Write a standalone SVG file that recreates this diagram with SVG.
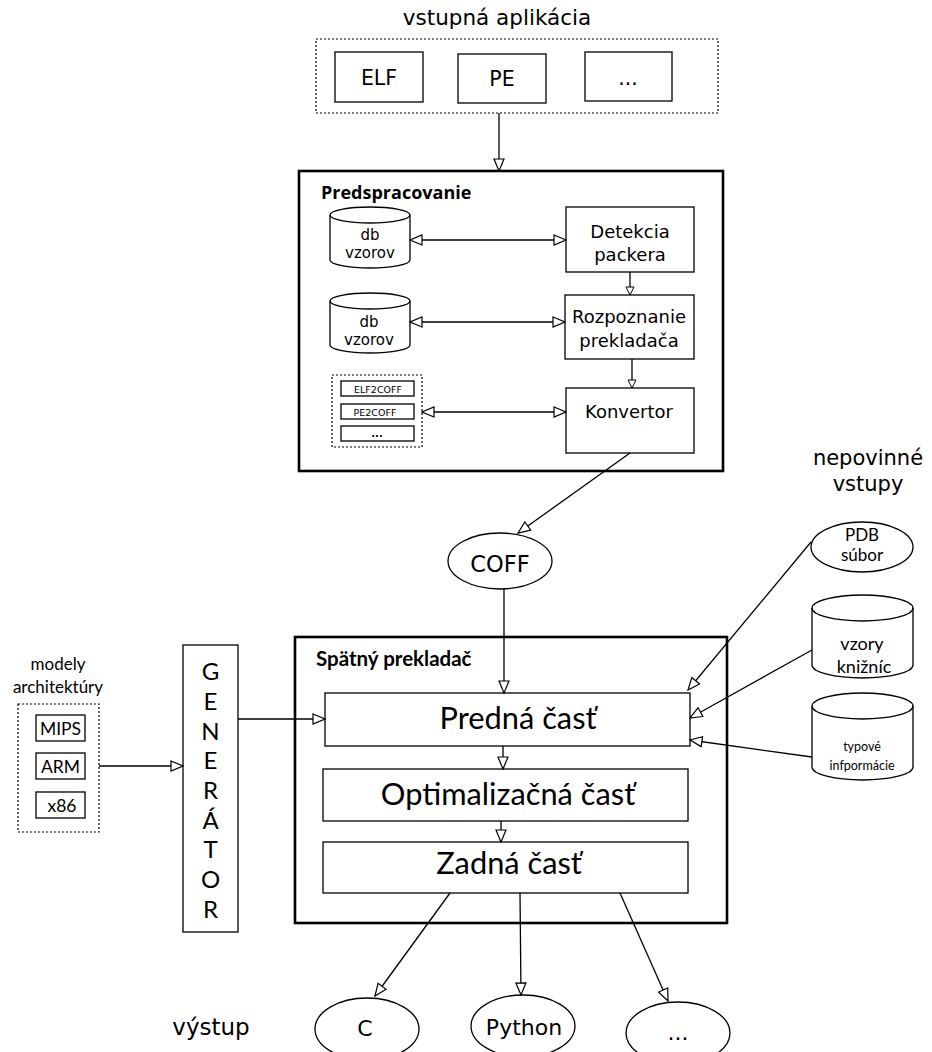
<svg xmlns="http://www.w3.org/2000/svg" width="932" height="1052" viewBox="0 0 932 1052">
<style>
.bx{fill:#fff;stroke:#000;stroke-width:1.3}
.big{fill:none;stroke:#000;stroke-width:2.6}
.dot{fill:none;stroke:#000;stroke-width:1.2;stroke-dasharray:2 2}
.ln{fill:none;stroke:#000;stroke-width:1.3}
.dj{font-family:"DejaVu Sans",sans-serif;fill:#000}
.lt{font-family:Lato,sans-serif;fill:#000}
.c{text-anchor:middle}
</style>
<defs>
<marker id="ah" markerUnits="userSpaceOnUse" markerWidth="14" markerHeight="12" refX="13" refY="6" orient="auto-start-reverse"><path d="M1,1 L13,6 L1,11 Z" fill="#fff" stroke="#000" stroke-width="1.2"/></marker>
<marker id="as" markerUnits="userSpaceOnUse" markerWidth="10" markerHeight="10" refX="9" refY="5" orient="auto"><path d="M1,1 L9,5 L1,9 Z" fill="#fff" stroke="#000" stroke-width="1"/></marker>
</defs>
<rect width="932" height="1052" fill="#fff"/>

<text class="dj c" x="497" y="25" font-size="21.5">vstupná aplikácia</text>
<g id="inputs">
<rect class="dot" x="316" y="39" width="402" height="74"/>
<g id="elf"><rect class="bx" x="335" y="52" width="88" height="50"/><text class="dj c" x="379" y="85" font-size="20.5">ELF</text></g>
<g id="pe"><rect class="bx" x="458" y="54" width="88" height="49"/><text class="dj c" x="502" y="86" font-size="20.5">PE</text></g>
<g id="other-in"><rect class="bx" x="585" y="52" width="87" height="49"/><text class="dj c" x="628" y="85" font-size="20.5">...</text></g>
</g>

<g id="predspracovanie">
<rect class="big" x="299" y="171" width="424" height="300"/>
<text x="321" y="199" font-family="'Open Sans',sans-serif" font-weight="bold" font-size="18">Predspracovanie</text>
</g>
<g id="db1">
<path class="bx" d="M330,215 A40,8 0 0 1 410,215 L410,260 A40,8 0 0 1 330,260 Z"/>
<path class="ln" d="M330,215 A40,8 0 0 0 410,215"/>
<text class="dj c" x="370" y="240" font-size="15">db</text><text class="dj c" x="370" y="258" font-size="15">vzorov</text>
</g>
<g id="db2">
<path class="bx" d="M330,301 A40,8 0 0 1 410,301 L410,345 A40,8 0 0 1 330,345 Z"/>
<path class="ln" d="M330,301 A40,8 0 0 0 410,301"/>
<text class="dj c" x="369" y="327" font-size="15">db</text><text class="dj c" x="369" y="345" font-size="15">vzorov</text>
</g>
<g id="detekcia"><rect class="bx" x="566" y="207" width="128" height="65"/><text class="dj c" x="630" y="238" font-size="18">Detekcia</text><text class="dj c" x="630" y="261" font-size="18">packera</text></g>
<g id="rozpoznanie"><rect class="bx" x="565" y="295" width="129" height="64"/><text class="dj c" x="629" y="323" font-size="18">Rozpoznanie</text><text class="dj c" x="629" y="347" font-size="18">prekladača</text></g>
<g id="konvertor"><rect class="bx" x="566" y="388" width="128" height="65"/><text class="dj c" x="629" y="418" font-size="18">Konvertor</text></g>
<g id="konverzie">
<rect class="dot" x="332" y="375" width="90" height="72"/>
<rect class="bx" x="341" y="381" width="73" height="15"/><text class="dj c" x="378" y="392.5" font-size="9.5">ELF2COFF</text>
<rect class="bx" x="341" y="404" width="73" height="15"/><text class="dj c" x="375" y="415.5" font-size="9.5">PE2COFF</text>
<rect class="bx" x="341" y="426" width="73" height="15"/><text class="dj c" x="377" y="437" font-size="10" font-weight="bold">...</text>
</g>

<g id="coff"><ellipse class="bx" cx="500" cy="561" rx="52" ry="28"/><text class="dj c" x="500" y="572" font-size="22.5">COFF</text></g>

<text class="dj c" x="868" y="465" font-size="21">nepovinné</text>
<text class="dj c" x="868" y="491" font-size="21">vstupy</text>
<g id="pdb"><ellipse class="bx" cx="862" cy="547" rx="51" ry="25"/><text class="lt c" x="862" y="541" font-size="17">PDB</text><text class="lt c" x="862" y="561" font-size="17">súbor</text></g>
<g id="vzory">
<path class="bx" d="M812,608 A50.5,13 0 0 1 913,608 L913,665 A50.5,13 0 0 1 812,665 Z"/>
<path class="ln" d="M812,608 A50.5,13 0 0 0 913,608"/>
<text class="lt c" x="862" y="650" font-size="18">vzory</text><text class="lt c" x="864" y="673" font-size="18">knižníc</text>
</g>
<g id="typove">
<path class="bx" d="M812,706 A50.5,13 0 0 1 913,706 L913,767 A50.5,13 0 0 1 812,767 Z"/>
<path class="ln" d="M812,706 A50.5,13 0 0 0 913,706"/>
<text class="lt c" x="862" y="751" font-size="12.5">typové</text><text class="lt c" x="862" y="770" font-size="12.5">infpormácie</text>
</g>

<g id="modely">
<text class="lt c" x="58" y="670" font-size="17">modely</text>
<text class="lt c" x="58" y="693" font-size="17">architektúry</text>
<rect class="dot" x="18" y="704" width="81" height="128"/>
<rect class="bx" x="36" y="715" width="49" height="26"/><text class="lt c" x="60.5" y="735" font-size="17.5">MIPS</text>
<rect class="bx" x="36" y="753" width="49" height="26"/><text class="lt c" x="60.5" y="773" font-size="17.5">ARM</text>
<rect class="bx" x="36" y="792" width="49" height="26"/><text class="lt c" x="62" y="812" font-size="17.5">x86</text>
</g>

<g id="generator">
<rect class="bx" x="183" y="645" width="55" height="287"/>
<g class="lt c" font-size="24">
<text x="210.5" y="680">G</text><text x="210.5" y="710">E</text><text x="210.5" y="740">N</text><text x="210.5" y="769">E</text><text x="210.5" y="799">R</text><text x="210.5" y="829">Á</text><text x="210.5" y="858">T</text><text x="210.5" y="888">O</text><text x="210.5" y="918">R</text>
</g>
</g>

<g id="spatny">
<rect class="big" x="295" y="637" width="432" height="286"/>
<text class="lt" x="316" y="666" font-size="20.5" font-weight="bold">Spätný prekladač</text>
</g>
<g id="predna"><rect class="bx" x="325" y="693" width="365" height="53"/><text class="lt c" x="518" y="729" font-size="30.8">Predná časť</text></g>
<g id="optim"><rect class="bx" x="323" y="769" width="365" height="52"/><text class="lt c" x="508" y="805" font-size="30.8">Optimalizačná časť</text></g>
<g id="zadna"><rect class="bx" x="323" y="842" width="365" height="51"/><text class="lt c" x="509" y="874" font-size="30.8">Zadná časť</text></g>

<text class="dj c" x="211" y="1035" font-size="23">výstup</text>
<g id="out-c"><ellipse class="bx" cx="367" cy="1029" rx="52" ry="31"/><text class="dj c" x="365" y="1036" font-size="22">C</text></g>
<g id="out-python"><ellipse class="bx" cx="523" cy="1026" rx="52" ry="31"/><text class="dj c" x="524" y="1035" font-size="22">Python</text></g>
<g id="out-other"><ellipse class="bx" cx="678" cy="1033" rx="52" ry="31"/><text class="dj c" x="678" y="1040" font-size="22">...</text></g>

<g id="connectors">
<line class="ln" x1="499" y1="113" x2="499" y2="171" marker-end="url(#ah)"/>
<line class="ln" x1="410" y1="240" x2="566" y2="240" marker-start="url(#ah)" marker-end="url(#ah)"/>
<line class="ln" x1="410" y1="322" x2="565" y2="322" marker-start="url(#ah)" marker-end="url(#ah)"/>
<line class="ln" x1="422" y1="412" x2="566" y2="412" marker-start="url(#ah)" marker-end="url(#ah)"/>
<line class="ln" x1="630" y1="272" x2="630" y2="295" marker-end="url(#as)"/>
<line class="ln" x1="632" y1="359" x2="632" y2="388" marker-end="url(#as)"/>
<line class="ln" x1="630" y1="453" x2="518" y2="533" marker-end="url(#ah)"/>
<line class="ln" x1="504" y1="589" x2="504" y2="693" marker-end="url(#ah)"/>
<line class="ln" x1="811" y1="542" x2="688" y2="690" marker-end="url(#ah)"/>
<line class="ln" x1="812" y1="650" x2="690" y2="718" marker-end="url(#ah)"/>
<line class="ln" x1="812" y1="757" x2="690" y2="740" marker-end="url(#ah)"/>
<line class="ln" x1="99" y1="766" x2="183" y2="766" marker-end="url(#ah)"/>
<line class="ln" x1="238" y1="719" x2="325" y2="719" marker-end="url(#ah)"/>
<line class="ln" x1="503" y1="746" x2="503" y2="769" marker-end="url(#ah)"/>
<line class="ln" x1="501" y1="821" x2="501" y2="842" marker-end="url(#ah)"/>
<line class="ln" x1="450" y1="893" x2="375" y2="996" marker-end="url(#ah)"/>
<line class="ln" x1="520" y1="893" x2="521" y2="995" marker-end="url(#ah)"/>
<line class="ln" x1="620" y1="893" x2="668" y2="1001" marker-end="url(#ah)"/>
</g>
</svg>
